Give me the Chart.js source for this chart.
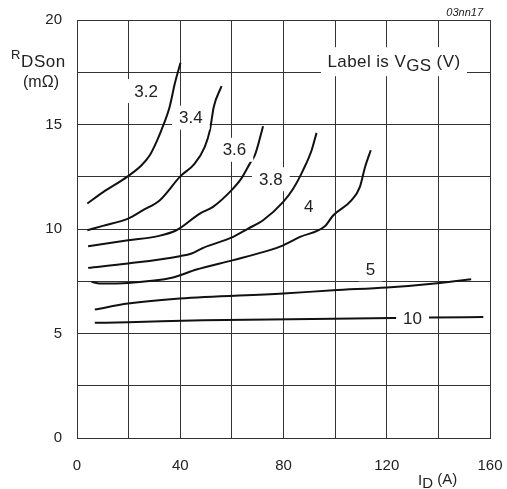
<!DOCTYPE html>
<html><head><meta charset="utf-8">
<script src="https://cdn.jsdelivr.net/npm/chart.js@4/dist/chart.umd.min.js"></script>
<style>html,body{margin:0;padding:0;background:#fff}canvas{display:block}</style>
</head><body>
<canvas id="c" width="507" height="489"></canvas>
<script>
// I_D (A) and R_DSon (mOhm) for each V_GS curve
const id_32 = [4.0, 10, 19.8, 25, 28.2, 30.8, 32.7, 35.9, 37.9, 40.1];
const r_32  = [11.22, 11.75, 12.53, 13.05, 13.53, 14.17, 14.73, 15.85, 16.96, 17.95];
const id_34 = [4.0, 10, 19.8, 25.6, 32.1, 40.1, 45.6, 49.5, 51.5, 53, 56];
const r_34  = [9.94, 10.15, 10.5, 10.9, 11.38, 12.53, 13.13, 13.93, 14.73, 15.85, 16.84];
const id_36 = [4.3, 19.8, 31.4, 38.5, 47.6, 52.7, 59.9, 63.7, 67, 68.9, 72.1];
const r_36  = [9.18, 9.46, 9.66, 9.94, 10.74, 11.06, 11.86, 12.42, 13.14, 13.53, 14.92];
const id_38 = [4.3, 19.8, 39.8, 44.4, 48.9, 60.5, 66.3, 72.1, 79.9, 83.8, 87.6, 90.9, 92.8];
const r_38  = [8.14, 8.35, 8.7, 8.83, 9.1, 9.62, 10.02, 10.42, 11.3, 11.94, 12.82, 13.77, 14.6];
const id_4  = [5.6, 8.8, 19.8, 37.2, 46.3, 60.5, 74.7, 79.9, 86.4, 96, 99.3, 106.4, 109.6, 111.6, 113.8];
const r_4   = [7.47, 7.39, 7.42, 7.68, 8.06, 8.51, 8.99, 9.22, 9.62, 10.13, 10.66, 11.38, 12.02, 12.97, 13.77];
const id_5  = [6.9, 19.8, 39.8, 79.9, 99.3, 120, 140.6, 152.7];
const r_5   = [6.15, 6.43, 6.67, 6.91, 7.07, 7.2, 7.42, 7.6];
const id_10 = [6.9, 19.8, 48.9, 107, 137.4, 157.4];
const r_10  = [5.51, 5.54, 5.63, 5.72, 5.76, 5.79];

const curveNames = ['3.2', '3.4', '3.6', '3.8', '4', '5', '10'];
// label anchor positions (data coords)
const labelX = [26.8, 44.1, 61.0, 75.1, 89.8, 113.7, 130.0];
const labelY = [16.6, 15.33, 13.79, 12.38, 11.08, 8.07, 5.73];

const xTicks = [0, 40, 80, 120, 160];
const yTicks = [0, 5, 10, 15, 20];

const series = [[id_32, r_32], [id_34, r_34], [id_36, r_36], [id_38, r_38], [id_4, r_4], [id_5, r_5], [id_10, r_10]];
const datasets = series.map((s, i) => ({
  label: curveNames[i],
  data: s[0].map((x, j) => ({x: x, y: s[1][j]})),
  showLine: true,
  borderColor: '#111',
  borderWidth: 2,
  pointRadius: 0,
  cubicInterpolationMode: 'monotone',
  fill: false
}));

const FONT = '"Liberation Sans", Arial, sans-serif';
const TXT = '#222';
const GRID = '#333';

const labelsPlugin = {
  id: 'labels',
  afterDatasetsDraw(chart) {
    const ctx = chart.ctx, xs = chart.scales.x, ys = chart.scales.y;
    ctx.save();
    ctx.font = '17px ' + FONT;
    ctx.textBaseline = 'middle';
    ctx.textAlign = 'center';
    for (let i = 0; i < curveNames.length; i++) {
      const px = xs.getPixelForValue(labelX[i]);
      const py = ys.getPixelForValue(labelY[i]);
      const w = ctx.measureText(curveNames[i]).width;
      ctx.fillStyle = '#fff';
      ctx.fillRect(px - w / 2 - 7, py - 12, w + 14, 24);
      ctx.fillStyle = TXT;
      ctx.fillText(curveNames[i], px, py + 1);
    }
    // "Label is VGS (V)" box
    const cx = xs.getPixelForValue(122.8), cy = ys.getPixelForValue(17.98);
    ctx.textAlign = 'left';
    ctx.textBaseline = 'alphabetic';
    ctx.letterSpacing = '0.4px';
    const p1 = 'Label is V', p2 = 'GS', p3 = ' (V)';
    const w1 = ctx.measureText(p1).width, w2 = ctx.measureText(p2).width, w3 = ctx.measureText(p3).width;
    const tw = w1 + w2 + w3;
    ctx.fillStyle = '#fff';
    ctx.fillRect(cx - 73, cy - 15, 146, 29);
    ctx.fillStyle = TXT;
    let x0 = cx - tw / 2;
    ctx.fillText(p1, x0, cy + 5);
    ctx.fillText(p2, x0 + w1, cy + 9);
    ctx.fillText(p3, x0 + w1 + w2, cy + 5);
    ctx.restore();
  },
  afterDraw(chart) {
    const ctx = chart.ctx;
    ctx.save();
    ctx.fillStyle = TXT;
    ctx.textAlign = 'left';
    ctx.textBaseline = 'alphabetic';
    // y axis title
    ctx.font = '13px ' + FONT;
    ctx.fillText('R', 11, 59);
    ctx.font = '17px ' + FONT;
    ctx.letterSpacing = '0.6px';
    ctx.fillText('DSon', 21, 67);
    ctx.letterSpacing = '0px';
    ctx.font = '16px ' + FONT;
    ctx.textAlign = 'center';
    ctx.fillText('(m\u03A9)', 41, 87);
    // x axis title
    ctx.textAlign = 'left';
    ctx.font = '15px ' + FONT;
    ctx.fillText('I', 418, 485);
    const wI = ctx.measureText('I').width;
    ctx.fillText('D', 418 + wI, 488);
    const wD = ctx.measureText('D').width;
    ctx.fillText(' (A)', 418 + wI + wD, 484);
    // figure code
    ctx.font = 'italic 11px ' + FONT;
    ctx.textAlign = 'right';
    ctx.fillText('03nn17', 483, 16);
    ctx.restore();
  }
};

new Chart(document.getElementById('c'), {
  type: 'scatter',
  data: { datasets: datasets },
  options: {
    responsive: false,
    devicePixelRatio: 1,
    animation: false,
    layout: { padding: { top: 20, right: 17, left: 0, bottom: 0 } },
    plugins: { legend: { display: false }, tooltip: { enabled: false } },
    scales: {
      x: {
        type: 'linear', min: 0, max: 160,
        afterFit(s) { s.height = 51; s.paddingLeft = 0; s.paddingRight = 0; },
        ticks: {
          stepSize: 20, padding: 19, color: TXT, font: { family: FONT, size: 15 }, maxRotation: 0,
          callback: v => xTicks.includes(v) ? String(v) : ''
        },
        grid: { color: GRID, lineWidth: 1, drawTicks: false },
        border: { color: GRID, width: 1 }
      },
      y: {
        type: 'linear', min: 0, max: 20,
        afterFit(s) { s.width = 77; s.paddingTop = 0; s.paddingBottom = 0; },
        ticks: {
          stepSize: 2.5, padding: 15, color: TXT, font: { family: FONT, size: 15 },
          callback: v => yTicks.includes(v) ? String(v) : ''
        },
        grid: { color: GRID, lineWidth: 1, drawTicks: false },
        border: { color: GRID, width: 1 }
      }
    }
  },
  plugins: [labelsPlugin]
});
</script>
</body></html>
